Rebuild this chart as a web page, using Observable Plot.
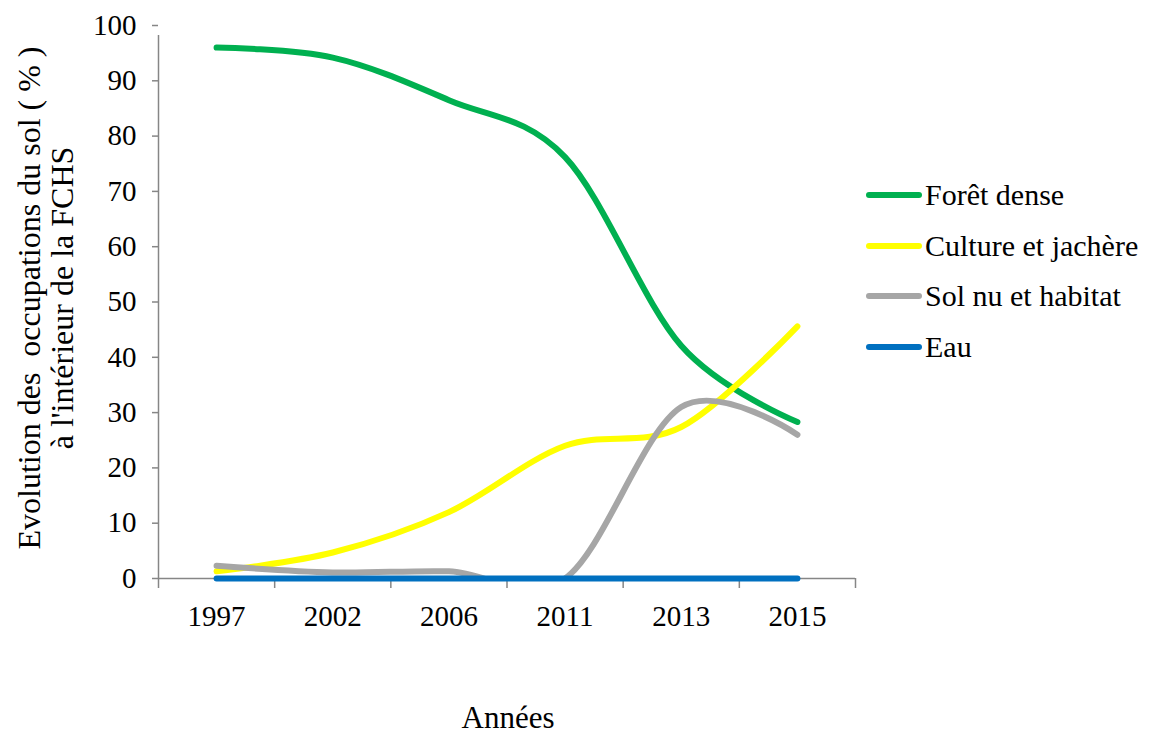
<!DOCTYPE html>
<html>
<head>
<meta charset="utf-8">
<script src="https://cdn.jsdelivr.net/npm/d3@7"></script>
<script src="https://cdn.jsdelivr.net/npm/@observablehq/plot@0.6"></script>
<style>
  html, body { margin: 0; padding: 0; background: #fff; }
  #wrap { position: relative; width: 1162px; height: 734px; font-family: "Liberation Serif", "Times New Roman", serif; }
  #legend { position: absolute; left: 866px; top: 170px; }
  .item { position: absolute; left: 0; height: 50px; display: flex; align-items: center; white-space: nowrap; font-size: 30px; color: #000; font-family: "Liberation Serif", serif; }
  .swatch { width: 56px; height: 6px; border-radius: 3px; margin-right: 3px; }
</style>
</head>
<body>
<div id="wrap"></div>
<script>
const years = ["1997", "2002", "2006", "2011", "2013", "2015"];
const seriesNames = ["Forêt dense", "Culture et jachère", "Sol nu et habitat", "Eau"];
const seriesColors = ["#00B050", "#FFFF00", "#A6A6A6", "#0070C0"];
const foret   = [96.0, 94.2, 86.5, 76.2, 42.1, 28.3];
const culture = [1.3, 4.7, 12.0, 24.0, 27.4, 45.6];
const solnu   = [2.3, 1.1, 1.3, 0.0, 31.0, 26.0];
const eau     = [0.0, 0.0, 0.0, 0.0, 0.0, 0.0];
const yTicks = [0, 10, 20, 30, 40, 50, 60, 70, 80, 90, 100];
const yTitle = "Evolution des \u00a0occupations du sol ( % )\nà l'intérieur de la FCHS";
const xTitle = "Années";

const allSeries = [foret, culture, solnu, eau];
const rows = (vals, name) => vals.map((v, i) => ({i, year: years[i], value: v, name}));
const tables = allSeries.map((vals, k) => rows(vals, seriesNames[k]));
const idx = years.map((_, i) => i);
const bounds = [...idx.map(i => i - 0.5), years.length - 0.5];

const font = "'Liberation Serif', 'Times New Roman', serif";
const axisGray = "#868686";
const fs = 29;

const lineMarks = tables.map((t, k) => Plot.line(t, {
  x: "i", y: "value", curve: "cardinal",
  stroke: seriesColors[k], strokeWidth: 6, strokeLinecap: "round", strokeLinejoin: "round",
  clip: k === 2
}));

const chart = Plot.plot({
  width: 1162,
  height: 734,
  marginLeft: 158,
  marginRight: 307,
  marginTop: 25,
  marginBottom: 156,
  style: {fontFamily: font, fontSize: fs + "px", background: "#fff", color: "#000"},
  x: {type: "linear", domain: [-0.5, years.length - 0.5]},
  y: {domain: [0, 100]},
  marks: [
    Plot.axisY({ticks: yTicks, tickSize: 6, tickPadding: 16, stroke: axisGray, strokeWidth: 1.5, strokeOpacity: 1, fill: "#000", label: null, fontSize: fs}),
    Plot.axisX({ticks: bounds, tickSize: 10, stroke: axisGray, strokeWidth: 1.5, strokeOpacity: 1, tickFormat: () => "", label: null}),
    Plot.axisX({ticks: idx, tickSize: 0, tickPadding: 27, tickFormat: i => years[i], fill: "#000", label: null, fontSize: fs}),
    Plot.ruleX([-0.5], {y1: 0, y2: 100, stroke: axisGray, strokeWidth: 1.5, insetBottom: -10}),
    Plot.ruleY([0], {stroke: axisGray, strokeWidth: 1.5}),
    ...lineMarks,
    Plot.text([yTitle], {text: d => d, frameAnchor: "left", dx: -113, dy: -4, rotate: -90, textAnchor: "middle", lineAnchor: "middle", lineHeight: 1.04, fontSize: 32, fill: "#000"}),
    Plot.text([xTitle], {text: d => d, frameAnchor: "bottom", dy: 140, dx: 1, textAnchor: "middle", lineAnchor: "middle", fontSize: 31, fill: "#000"})
  ]
});

const wrap = document.getElementById("wrap");
wrap.appendChild(chart);

const legend = document.createElement("div");
legend.id = "legend";
seriesNames.forEach((name, k) => {
  const item = document.createElement("div");
  item.className = "item";
  item.style.top = (k * 50.5) + "px";
  const sw = document.createElement("span");
  sw.className = "swatch";
  sw.style.background = seriesColors[k];
  const label = document.createElement("span");
  label.textContent = name;
  item.appendChild(sw);
  item.appendChild(label);
  legend.appendChild(item);
});
wrap.appendChild(legend);
chart.style.position = "absolute";
chart.style.left = "0px";
chart.style.top = "0px";
</script>
</body>
</html>
